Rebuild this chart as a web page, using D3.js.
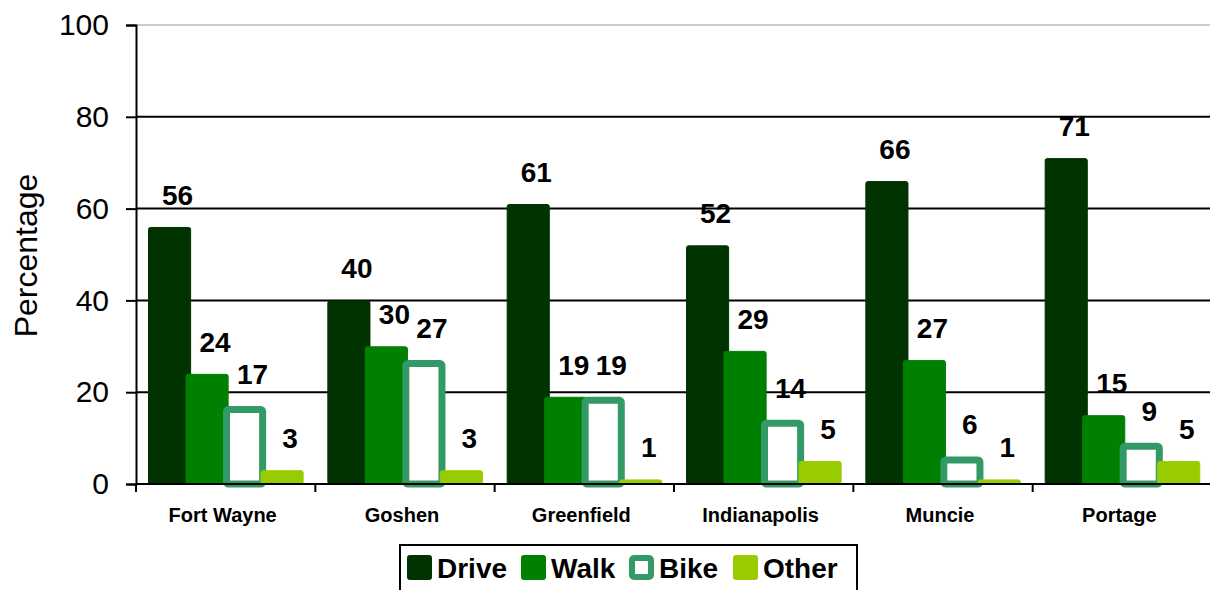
<!DOCTYPE html>
<html>
<head>
<meta charset="utf-8">
<title>commute mode</title>
<script src="https://d3js.org/d3.v7.min.js"></script>
<style>
  body { margin: 0; background: #fff; }
  svg { display: block; font-family: "Liberation Sans", Arial, sans-serif; }
</style>
</head>
<body>
<svg id="chart" width="1210" height="590"></svg>
<script>
// data
var cities = ["Fort Wayne", "Goshen", "Greenfield", "Indianapolis", "Muncie", "Portage"];
var modes = ["Drive", "Walk", "Bike", "Other"];
var drive = [56, 40, 61, 52, 66, 71];
var walk  = [24, 30, 19, 29, 27, 15];
var bike  = [17, 27, 19, 14, 6, 9];
var other = [3, 3, 1, 5, 1, 5];
var yTicks = [0, 20, 40, 60, 80, 100];

var series = { Drive: drive, Walk: walk, Bike: bike, Other: other };
var fills = { Drive: "#003300", Walk: "#008000", Bike: "#ffffff", Other: "#99cc00" };
var strokes = { Drive: "#003300", Walk: "#008000", Bike: "#339966", Other: "#99cc00" };

var svg = d3.select("#chart");
var plotLeft = 136, plotRight = 1212, plotTop = 25, plotBottom = 484;

var x0 = d3.scaleBand().domain(cities).range([plotLeft, plotRight]);
var x1 = d3.scaleBand().domain(modes).range([12, 162]);
var barW = x1.step() * 1.15;
var y = d3.scaleLinear().domain([0, 100]).range([plotBottom, plotTop]);

// gridlines
svg.append("g")
  .selectAll("line")
  .data(yTicks.filter(function (t) { return t > 0; }))
  .enter().append("line")
    .attr("x1", plotLeft).attr("x2", plotRight)
    .attr("y1", function (t) { return y(t); })
    .attr("y2", function (t) { return y(t); })
    .attr("stroke", function (t) { return t === 100 ? "#cccccc" : "#000" })
    .attr("stroke-width", 2);

// y axis
var yAxis = svg.append("g")
  .attr("transform", "translate(" + plotLeft + ",0)")
  .call(d3.axisLeft(y).tickValues(yTicks).tickSize(10).tickPadding(17));
yAxis.select(".domain").attr("stroke", "#000").attr("stroke-width", 2);
yAxis.selectAll(".tick line").attr("stroke", "#000").attr("stroke-width", 2);
yAxis.selectAll(".tick text")
  .attr("font-size", 30).attr("fill", "#000")
  .style("font-family", "'Liberation Sans', Arial, sans-serif");

svg.append("text")
  .attr("transform", "translate(37," + ((plotTop + plotBottom) / 2 + 1) + ") rotate(-90)")
  .attr("text-anchor", "middle")
  .attr("font-size", 32)
  .text("Percentage");

// bars
var groups = svg.append("g")
  .selectAll("g")
  .data(cities)
  .enter().append("g")
    .attr("transform", function (c) { return "translate(" + x0(c) + ",0)"; });

groups.each(function (c, i) {
  var g = d3.select(this);
  modes.forEach(function (m) {
    var v = series[m][i];
    var sw = m === "Bike" ? 7 : 1;
    var bx = x1(m) + sw / 2, bw = barW - sw;
    var by = y(v) + sw / 2, bh = Math.max(0, y(0) - y(v) - sw / 2);
    g.append("rect")
      .attr("x", bx).attr("y", by)
      .attr("width", bw).attr("height", bh)
      .attr("rx", 2)
      .attr("fill", fills[m])
      .attr("stroke", strokes[m])
      .attr("stroke-width", sw);
    g.append("text")
      .attr("x", x1(m) + barW / 2 + 8)
      .attr("y", y(v) - 22)
      .attr("text-anchor", "middle")
      .attr("font-size", 28)
      .attr("font-weight", "bold")
      .text(v);
  });
});

// x axis
svg.append("line")
  .attr("x1", plotLeft).attr("x2", plotRight)
  .attr("y1", plotBottom).attr("y2", plotBottom)
  .attr("stroke", "#000").attr("stroke-width", 2);
svg.append("g")
  .selectAll("line")
  .data(cities)
  .enter().append("line")
    .attr("x1", function (c) { return x0(c); })
    .attr("x2", function (c) { return x0(c); })
    .attr("y1", plotBottom).attr("y2", plotBottom + 8)
    .attr("stroke", "#000").attr("stroke-width", 2);
svg.append("g")
  .selectAll("text")
  .data(cities)
  .enter().append("text")
    .attr("x", function (c) { return x0(c) + x0.bandwidth() / 2 - 3; })
    .attr("y", 522)
    .attr("text-anchor", "middle")
    .attr("font-size", 20)
    .attr("font-weight", "bold")
    .text(function (c) { return c; });

// legend
var legend = svg.append("g");
legend.append("rect")
  .attr("x", 400).attr("y", 545)
  .attr("width", 457).attr("height", 60)
  .attr("fill", "#fff").attr("stroke", "#000").attr("stroke-width", 2);
var legendX = [407, 521, 629, 733];
modes.forEach(function (m, i) {
  var sw = m === "Bike" ? 6 : 1;
  legend.append("rect")
    .attr("x", legendX[i] + sw / 2).attr("y", 555 + sw / 2)
    .attr("width", 25 - sw).attr("height", 25 - sw)
    .attr("rx", 2)
    .attr("fill", fills[m]).attr("stroke", strokes[m]).attr("stroke-width", sw);
  legend.append("text")
    .attr("x", legendX[i] + 30).attr("y", 578)
    .attr("font-size", 28).attr("font-weight", "bold")
    .text(m);
});
</script>
</body>
</html>
